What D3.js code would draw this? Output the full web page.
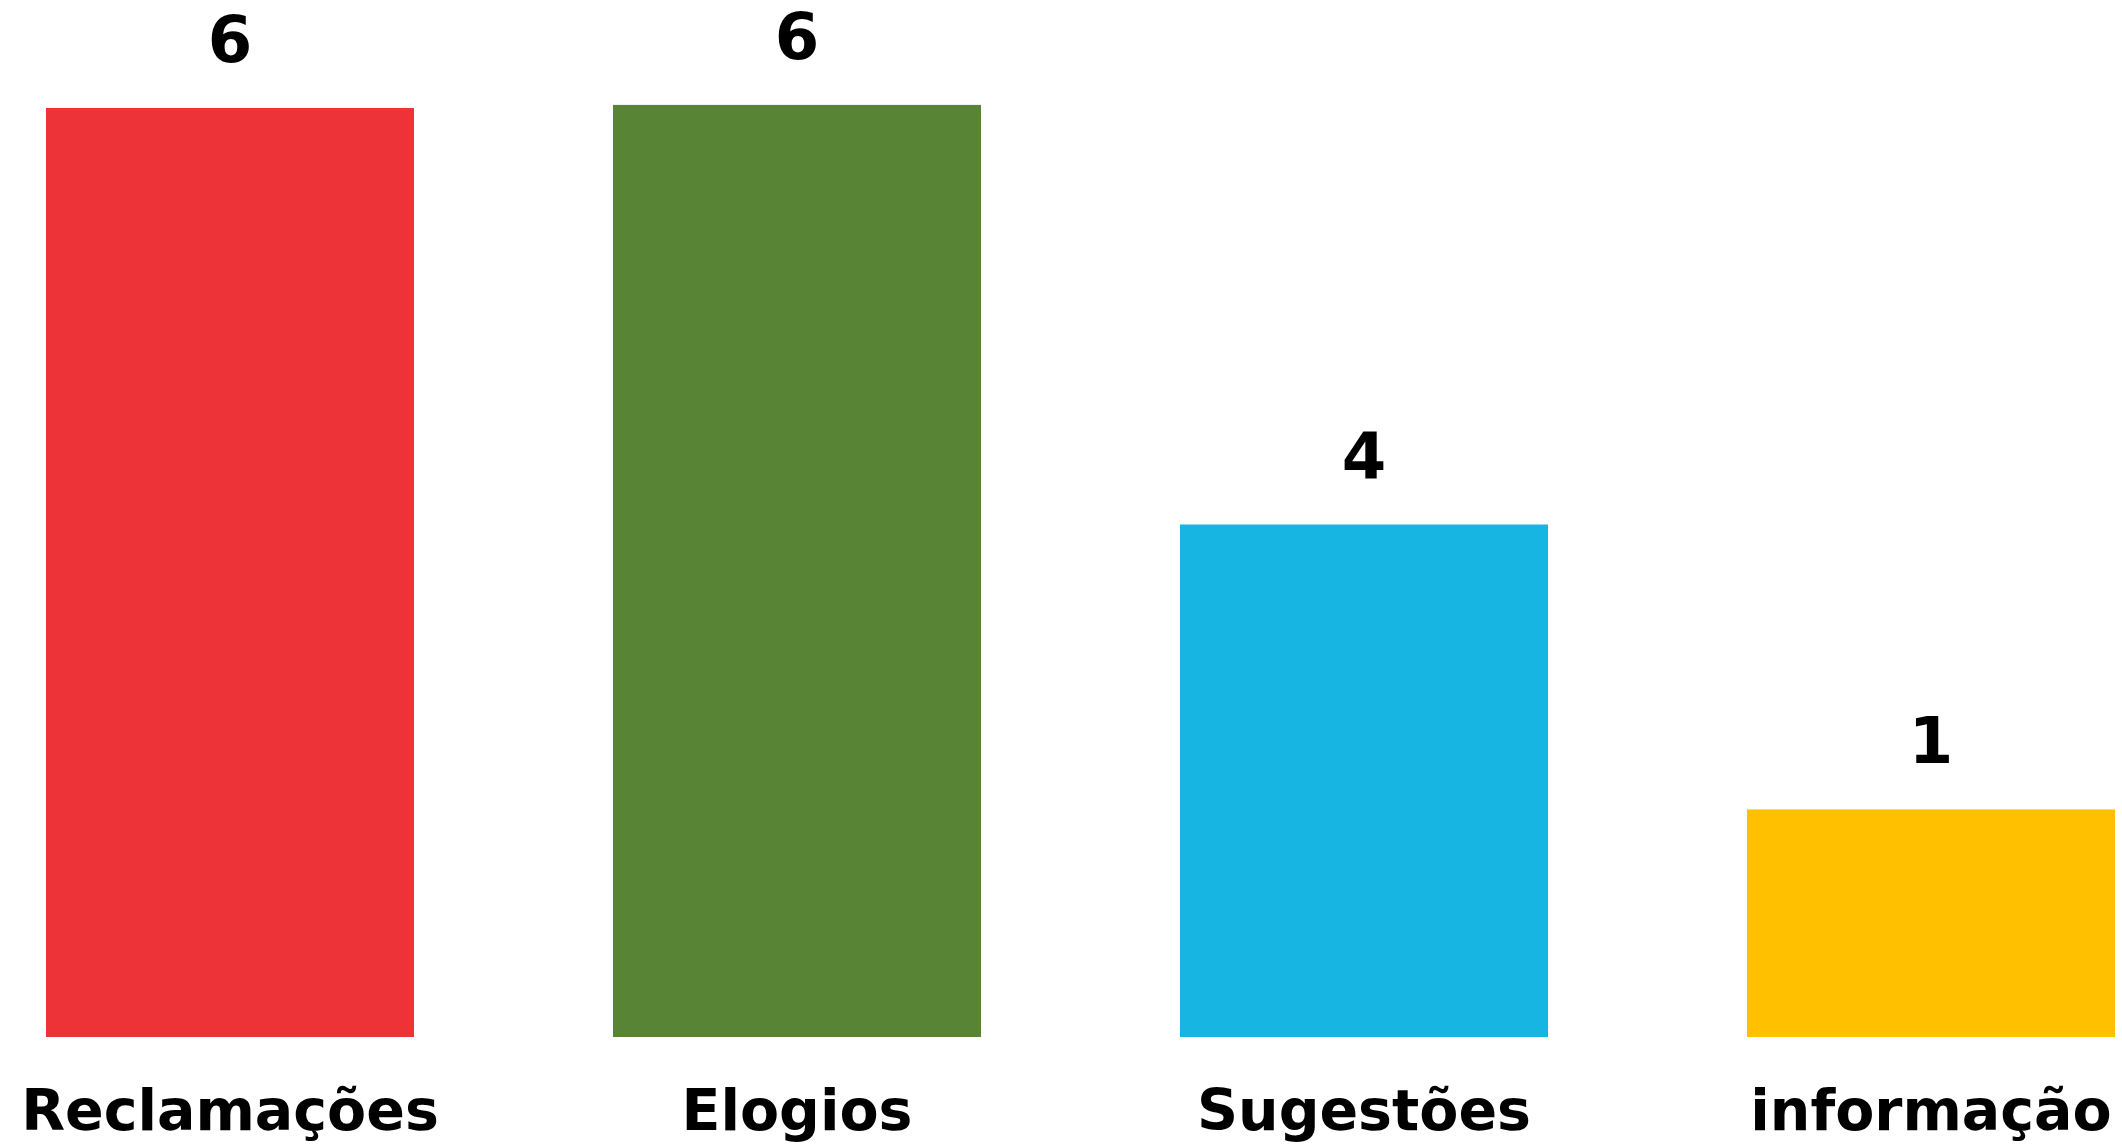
<!DOCTYPE html>
<html>
<head>
<meta charset="utf-8">
<script src="https://cdn.jsdelivr.net/npm/d3@7/dist/d3.min.js"></script>
<style>
  html, body { margin: 0; padding: 0; background: #ffffff; }
  svg { display: block; }
</style>
</head>
<body>
<script>
// ---- data ----
const categories = ["Reclamações", "Elogios", "Sugestões", "informação"];
const values = [6, 6, 4, 1];                 // printed counts
const barLevels = [6.0, 6.02, 3.31, 1.47];   // bar heights as drawn in the picture (same units)
const colors = ["#ED3338", "#588436", "#16B5E2", "#FFC000"];

const W = 2122, H = 1145;
const svg = d3.select("body").append("svg")
  .attr("width", W).attr("height", H);

const x = d3.scaleBand()
  .domain(categories)
  .range([46, 2115])
  .paddingInner(0.351)
  .paddingOuter(0);

const y = d3.scaleLinear()
  .domain([0, 6])
  .range([1037, 108]);

const font = "'DejaVu Sans', Verdana, sans-serif";

svg.selectAll("rect.bar")
  .data(categories)
  .join("rect")
  .attr("class", "bar")
  .attr("x", d => x(d))
  .attr("width", x.bandwidth())
  .attr("y", (d, i) => y(barLevels[i]))
  .attr("height", (d, i) => y(0) - y(barLevels[i]))
  .attr("fill", (d, i) => colors[i]);

svg.selectAll("text.val")
  .data(categories)
  .join("text")
  .attr("class", "val")
  .attr("x", d => x(d) + x.bandwidth() / 2)
  .attr("y", (d, i) => y(barLevels[i]) - 46)
  .attr("text-anchor", "middle")
  .attr("font-family", font)
  .attr("font-weight", "bold")
  .attr("font-size", 64)
  .attr("fill", "#000")
  .text((d, i) => values[i]);

const xAxis = d3.axisBottom(x).tickSize(0).tickPadding(0);
const gx = svg.append("g")
  .attr("transform", `translate(0, 1130)`)
  .call(xAxis);
gx.select(".domain").remove();
gx.selectAll("text")
  .attr("dy", 0)
  .attr("y", 0)
  .attr("font-family", font)
  .attr("font-weight", "bold")
  .attr("font-size", 57)
  .attr("fill", "#000");
</script>
</body>
</html>
